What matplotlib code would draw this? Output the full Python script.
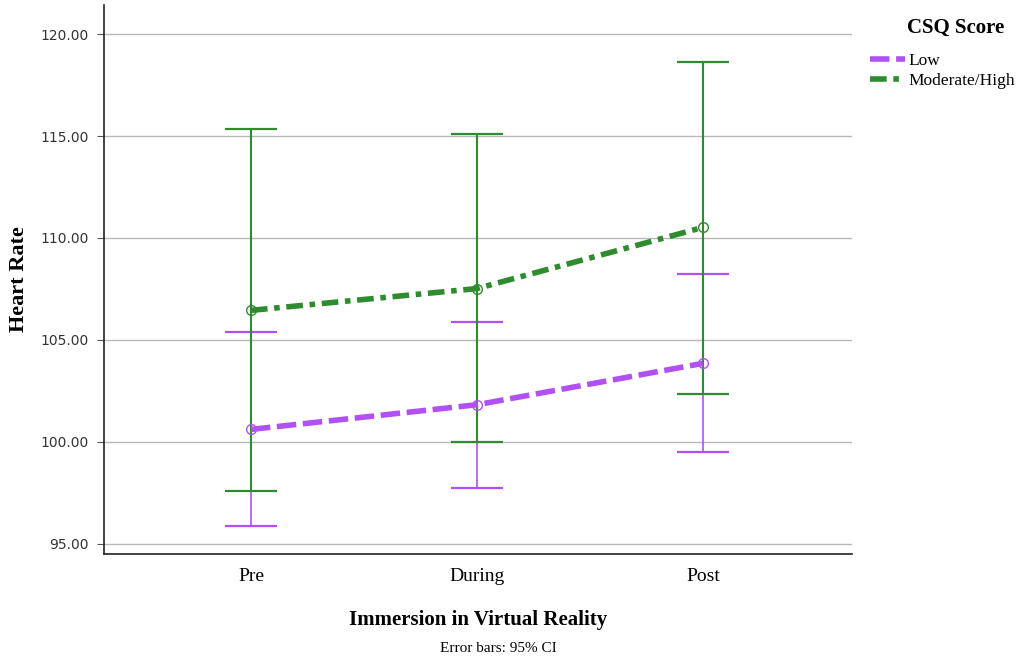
import matplotlib.pyplot as plt
import numpy as np

phases = ["Pre", "During", "Post"]

low_mean = [100.61, 101.82, 103.85]
low_lo = [95.86, 97.74, 99.48]
low_hi = [105.37, 105.87, 108.22]

mod_mean = [106.45, 107.52, 110.52]
mod_lo = [97.59, 99.97, 102.36]
mod_hi = [115.33, 115.12, 118.62]

purple = "#b050f5"
green = "#2e8b2e"
serif = "Liberation Serif"

fig = plt.figure(figsize=(10.24, 6.64), dpi=100)
ax = fig.add_axes([0.1016, 0.1657, 0.7305, 0.8268])

x = np.arange(len(phases))

ax.errorbar(x, low_mean,
            yerr=[np.array(low_mean) - np.array(low_lo), np.array(low_hi) - np.array(low_mean)],
            fmt="none", ecolor=purple, elinewidth=1.2, capsize=19, capthick=1.6, zorder=3)
ax.errorbar(x, mod_mean,
            yerr=[np.array(mod_mean) - np.array(mod_lo), np.array(mod_hi) - np.array(mod_mean)],
            fmt="none", ecolor=green, elinewidth=1.5, capsize=19, capthick=1.6, zorder=4)

ax.plot(x, low_mean, color=purple, lw=4, dashes=(3.5, 1.2), label="Low", zorder=5,
        marker="o", markersize=7, markerfacecolor="none", markeredgewidth=1.0)
ax.plot(x, mod_mean, color=green, lw=4, dashes=(3, 1.2, 1, 1.2), label="Moderate/High", zorder=5,
        marker="o", markersize=7, markerfacecolor="none", markeredgewidth=1.0)

ax.set_xlim(-0.65, 2.66)
ax.set_ylim(94.5, 121.43)
ax.set_yticks([95, 100, 105, 110, 115, 120])
ax.set_yticklabels([f"{v:.2f}" for v in [95, 100, 105, 110, 115, 120]], fontsize=10,
                   family="DejaVu Sans", color="#333333")
ax.set_xticks(x)
ax.set_xticklabels(phases, fontsize=14, family=serif)
ax.tick_params(axis="x", length=0, pad=10)
ax.tick_params(axis="y", length=5, width=0.8, color="#555555", pad=6)

ax.grid(axis="y", color="#b8b8b8", lw=1.0, zorder=0)
ax.set_axisbelow(True)
for s in ["top", "right"]:
    ax.spines[s].set_visible(False)
for s in ["left", "bottom"]:
    ax.spines[s].set_color("#222222")
    ax.spines[s].set_linewidth(1.2)

ax.set_ylabel("Heart Rate", fontsize=16, family=serif, fontweight="bold")
ax.yaxis.set_label_coords(-0.10, 0.5)
ax.set_xlabel("Immersion in Virtual Reality", fontsize=15, family=serif, fontweight="bold", labelpad=18)

fig.text(0.4863, 0.0135, "Error bars: 95% CI", ha="center", va="bottom", fontsize=11, family=serif)

fig.text(0.933, 1 - 28 / 664, "CSQ Score", ha="center", va="center", fontsize=15,
         family=serif, fontweight="bold")
leg = fig.legend(loc="upper left", bbox_to_anchor=(0.843, 1 - 46 / 664), frameon=False,
                 prop={"family": serif, "size": 12.5}, handlelength=2.0, handletextpad=0.2,
                 labelspacing=0.2, borderaxespad=0)
for h in leg.get_lines():
    h.set_marker("")

fig.savefig("out.png", dpi=100)
